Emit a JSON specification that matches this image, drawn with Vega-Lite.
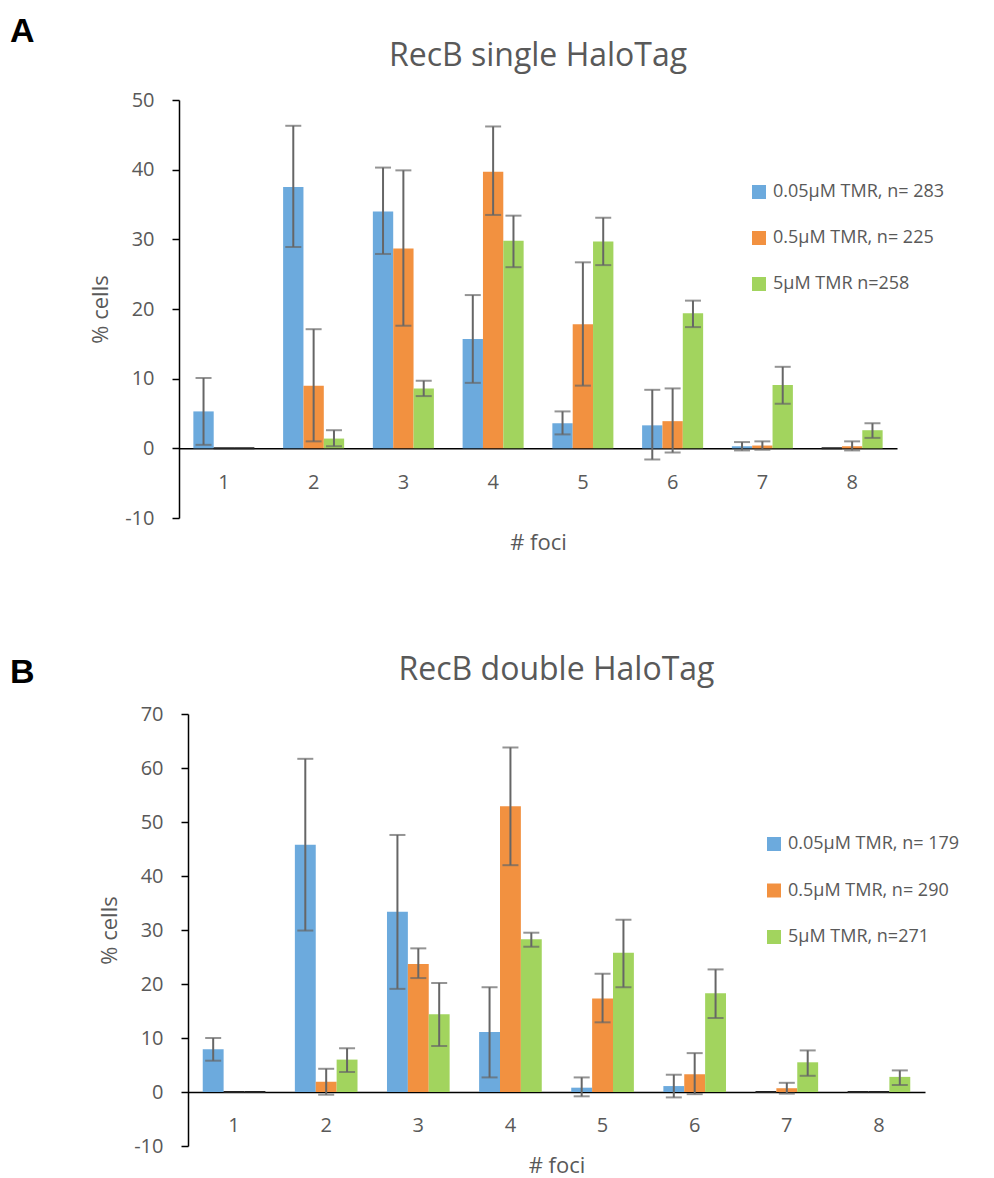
{
  "$schema": "https://vega.github.io/schema/vega-lite/v6.json",
  "padding": {"left": 10, "top": 15, "right": 5, "bottom": 2},
  "config": {"font": "Open Sans", "view": {"stroke": null}},
  "datasets": {
    "A": [
      {"foci": "1", "series": "0.05µM TMR, n= 283", "value": 5.3, "lo": 0.5, "hi": 10.1},
      {"foci": "1", "series": "0.5µM TMR, n= 225", "value": 0, "lo": null, "hi": null},
      {"foci": "1", "series": "5µM TMR n=258", "value": 0, "lo": null, "hi": null},
      {"foci": "2", "series": "0.05µM TMR, n= 283", "value": 37.5, "lo": 28.9, "hi": 46.3},
      {"foci": "2", "series": "0.5µM TMR, n= 225", "value": 9.0, "lo": 1.0, "hi": 17.1},
      {"foci": "2", "series": "5µM TMR n=258", "value": 1.4, "lo": 0.3, "hi": 2.6},
      {"foci": "3", "series": "0.05µM TMR, n= 283", "value": 34.0, "lo": 27.9, "hi": 40.3},
      {"foci": "3", "series": "0.5µM TMR, n= 225", "value": 28.7, "lo": 17.6, "hi": 39.9},
      {"foci": "3", "series": "5µM TMR n=258", "value": 8.6, "lo": 7.5, "hi": 9.7},
      {"foci": "4", "series": "0.05µM TMR, n= 283", "value": 15.7, "lo": 9.4, "hi": 22.0},
      {"foci": "4", "series": "0.5µM TMR, n= 225", "value": 39.7, "lo": 33.5, "hi": 46.2},
      {"foci": "4", "series": "5µM TMR n=258", "value": 29.8, "lo": 26.0, "hi": 33.4},
      {"foci": "5", "series": "0.05µM TMR, n= 283", "value": 3.6, "lo": 2.0, "hi": 5.3},
      {"foci": "5", "series": "0.5µM TMR, n= 225", "value": 17.8, "lo": 9.0, "hi": 26.7},
      {"foci": "5", "series": "5µM TMR n=258", "value": 29.7, "lo": 26.3, "hi": 33.1},
      {"foci": "6", "series": "0.05µM TMR, n= 283", "value": 3.3, "lo": -1.6, "hi": 8.4},
      {"foci": "6", "series": "0.5µM TMR, n= 225", "value": 3.9, "lo": -0.6, "hi": 8.6},
      {"foci": "6", "series": "5µM TMR n=258", "value": 19.4, "lo": 17.4, "hi": 21.2},
      {"foci": "7", "series": "0.05µM TMR, n= 283", "value": 0.3, "lo": -0.3, "hi": 0.9},
      {"foci": "7", "series": "0.5µM TMR, n= 225", "value": 0.4, "lo": -0.2, "hi": 1.0},
      {"foci": "7", "series": "5µM TMR n=258", "value": 9.1, "lo": 6.4, "hi": 11.7},
      {"foci": "8", "series": "0.05µM TMR, n= 283", "value": 0, "lo": null, "hi": null},
      {"foci": "8", "series": "0.5µM TMR, n= 225", "value": 0.3, "lo": -0.3, "hi": 1.0},
      {"foci": "8", "series": "5µM TMR n=258", "value": 2.6, "lo": 1.5, "hi": 3.6}
    ],
    "B": [
      {"foci": "1", "series": "0.05µM TMR, n= 179", "value": 7.9, "lo": 5.8, "hi": 10.0},
      {"foci": "1", "series": "0.5µM TMR, n= 290", "value": 0, "lo": null, "hi": null},
      {"foci": "1", "series": "5µM TMR, n=271", "value": 0, "lo": null, "hi": null},
      {"foci": "2", "series": "0.05µM TMR, n= 179", "value": 45.8, "lo": 29.9, "hi": 61.7},
      {"foci": "2", "series": "0.5µM TMR, n= 290", "value": 1.9, "lo": -0.5, "hi": 4.3},
      {"foci": "2", "series": "5µM TMR, n=271", "value": 6.0, "lo": 3.7, "hi": 8.1},
      {"foci": "3", "series": "0.05µM TMR, n= 179", "value": 33.4, "lo": 19.1, "hi": 47.6},
      {"foci": "3", "series": "0.5µM TMR, n= 290", "value": 23.7, "lo": 21.1, "hi": 26.6},
      {"foci": "3", "series": "5µM TMR, n=271", "value": 14.4, "lo": 8.5, "hi": 20.2},
      {"foci": "4", "series": "0.05µM TMR, n= 179", "value": 11.1, "lo": 2.7, "hi": 19.4},
      {"foci": "4", "series": "0.5µM TMR, n= 290", "value": 52.9, "lo": 42.0, "hi": 63.8},
      {"foci": "4", "series": "5µM TMR, n=271", "value": 28.3, "lo": 26.9, "hi": 29.5},
      {"foci": "5", "series": "0.05µM TMR, n= 179", "value": 0.8, "lo": -0.8, "hi": 2.7},
      {"foci": "5", "series": "0.5µM TMR, n= 290", "value": 17.3, "lo": 12.9, "hi": 21.9},
      {"foci": "5", "series": "5µM TMR, n=271", "value": 25.8, "lo": 19.4, "hi": 31.9},
      {"foci": "6", "series": "0.05µM TMR, n= 179", "value": 1.1, "lo": -1.0, "hi": 3.2},
      {"foci": "6", "series": "0.5µM TMR, n= 290", "value": 3.3, "lo": -0.4, "hi": 7.2},
      {"foci": "6", "series": "5µM TMR, n=271", "value": 18.3, "lo": 13.7, "hi": 22.7},
      {"foci": "7", "series": "0.05µM TMR, n= 179", "value": 0, "lo": null, "hi": null},
      {"foci": "7", "series": "0.5µM TMR, n= 290", "value": 0.7, "lo": -0.3, "hi": 1.7},
      {"foci": "7", "series": "5µM TMR, n=271", "value": 5.5, "lo": 3.0, "hi": 7.7},
      {"foci": "8", "series": "0.05µM TMR, n= 179", "value": 0, "lo": null, "hi": null},
      {"foci": "8", "series": "0.5µM TMR, n= 290", "value": 0, "lo": null, "hi": null},
      {"foci": "8", "series": "5µM TMR, n=271", "value": 2.8, "lo": 1.3, "hi": 4.0}
    ]
  },
  "resolve": {"scale": {"color": "independent", "x": "independent", "y": "independent", "xOffset": "independent"}, "legend": {"color": "independent"}},
  "spacing": 100,
  "vconcat": [
    {
      "title": {"text": "A", "anchor": "start", "fontSize": 34, "fontWeight": "bold", "color": "black", "font": "Liberation Sans", "dx": -78, "offset": -9},
      "spacing": 0,
      "hconcat": [
        {
          "data": {"values": []},
          "width": 1,
          "height": 1,
          "view": {"fill": "white", "stroke": null},
          "mark": {"type": "point", "opacity": 0},
          "encoding": {}
        },
        {
          "data": {"name": "A"},
          "width": 718,
          "height": 418,
          "title": {"text": "RecB single HaloTag", "fontSize": 32, "fontWeight": "normal", "color": "#595959", "anchor": "middle", "offset": 17},
          "encoding": {
            "x": {"field": "foci", "type": "nominal", "sort": null,
              "scale": {"paddingInner": 0.32, "paddingOuter": 0.16},
              "axis": {"orient": "bottom", "offset": -69.7, "domainColor": "black", "domainWidth": 1.5, "ticks": false, "tickSize": 0, "labelPadding": 24, "labelAngle": 0, "labelFontSize": 20, "labelColor": "#595959", "title": "# foci", "titleFontSize": 22, "titleFontWeight": "normal", "titleColor": "#595959", "titlePadding": 40}},
            "xOffset": {"field": "series", "type": "nominal", "sort": null, "scale": {"paddingInner": 0, "paddingOuter": 0}}
          },
          "layer": [
            {
              "mark": {"type": "bar"},
              "encoding": {
                "y": {"field": "value", "type": "quantitative", "stack": null,
                  "scale": {"domain": [-10, 50], "nice": false, "zero": false},
                  "axis": {"values": [-10, 0, 10, 20, 30, 40, 50], "labelExpr": "replace(datum.label, '−', '-')", "grid": false, "domainColor": "black", "domainWidth": 1.5, "tickColor": "black", "tickSize": 7, "tickWidth": 1.5, "labelPadding": 18, "labelFontSize": 20, "labelColor": "#595959", "title": "% cells", "titleFontSize": 22, "titleFontWeight": "normal", "titleColor": "#595959", "titlePadding": 12}},
                "color": {"field": "series", "type": "nominal", "sort": null,
                  "scale": {"domain": ["0.05µM TMR, n= 283", "0.5µM TMR, n= 225", "5µM TMR n=258"], "range": ["#6CAADD", "#F29140", "#A2D45E"]},
                  "legend": {"orient": "none", "legendX": 662, "legendY": 83, "title": null, "symbolType": "square", "symbolSize": 196, "symbolStrokeWidth": 0, "labelFontSize": 18, "labelColor": "#595959", "labelLimit": 400, "rowPadding": 28, "labelOffset": 5}},
                "stroke": {"condition": {"test": "datum.value == 0", "value": "#222222"}, "value": null},
                "strokeWidth": {"value": 2}
              }
            },
            {
              "transform": [{"filter": "datum.hi != null"}],
              "mark": {"type": "rule", "color": "#666666", "strokeWidth": 2},
              "encoding": {"y": {"field": "lo", "type": "quantitative"}, "y2": {"field": "hi"}}
            },
            {
              "transform": [{"filter": "datum.hi != null"}],
              "mark": {"type": "tick", "color": "#666666", "thickness": 2, "size": 16},
              "encoding": {"y": {"field": "hi", "type": "quantitative"}}
            },
            {
              "transform": [{"filter": "datum.hi != null"}],
              "mark": {"type": "tick", "color": "#666666", "thickness": 2, "size": 16},
              "encoding": {"y": {"field": "lo", "type": "quantitative"}}
            }
          ]
        }
      ]
    },
    {
      "title": {"text": "B", "anchor": "start", "fontSize": 34, "fontWeight": "bold", "color": "black", "font": "Liberation Sans", "dx": -78, "offset": -36},
      "spacing": 0,
      "hconcat": [
        {
          "data": {"values": []},
          "width": 10,
          "height": 1,
          "view": {"fill": "white", "stroke": null},
          "mark": {"type": "point", "opacity": 0},
          "encoding": {}
        },
        {
          "data": {"name": "B"},
          "width": 737,
          "height": 432,
          "title": {"text": "RecB double HaloTag", "fontSize": 32, "fontWeight": "normal", "color": "#595959", "anchor": "middle", "offset": 17},
          "encoding": {
            "x": {"field": "foci", "type": "nominal", "sort": null,
              "scale": {"paddingInner": 0.32, "paddingOuter": 0.16},
              "axis": {"orient": "bottom", "offset": -54, "domainColor": "black", "domainWidth": 1.5, "ticks": false, "tickSize": 0, "labelPadding": 23, "labelAngle": 0, "labelFontSize": 20, "labelColor": "#595959", "title": "# foci", "titleFontSize": 22, "titleFontWeight": "normal", "titleColor": "#595959", "titlePadding": 20}},
            "xOffset": {"field": "series", "type": "nominal", "sort": null, "scale": {"paddingInner": 0, "paddingOuter": 0}}
          },
          "layer": [
            {
              "mark": {"type": "bar"},
              "encoding": {
                "y": {"field": "value", "type": "quantitative", "stack": null,
                  "scale": {"domain": [-10, 70], "nice": false, "zero": false},
                  "axis": {"values": [-10, 0, 10, 20, 30, 40, 50, 60, 70], "labelExpr": "replace(datum.label, '−', '-')", "grid": false, "domainColor": "black", "domainWidth": 1.5, "tickColor": "black", "tickSize": 7, "tickWidth": 1.5, "labelPadding": 18, "labelFontSize": 20, "labelColor": "#595959", "title": "% cells", "titleFontSize": 22, "titleFontWeight": "normal", "titleColor": "#595959", "titlePadding": 12}},
                "color": {"field": "series", "type": "nominal", "sort": null,
                  "scale": {"domain": ["0.05µM TMR, n= 179", "0.5µM TMR, n= 290", "5µM TMR, n=271"], "range": ["#6CAADD", "#F29140", "#A2D45E"]},
                  "legend": {"orient": "none", "legendX": 677, "legendY": 121, "title": null, "symbolType": "square", "symbolSize": 196, "symbolStrokeWidth": 0, "labelFontSize": 18, "labelColor": "#595959", "labelLimit": 400, "rowPadding": 28.5, "labelOffset": 5}},
                "stroke": {"condition": {"test": "datum.value == 0", "value": "#222222"}, "value": null},
                "strokeWidth": {"value": 2}
              }
            },
            {
              "transform": [{"filter": "datum.hi != null"}],
              "mark": {"type": "rule", "color": "#666666", "strokeWidth": 2},
              "encoding": {"y": {"field": "lo", "type": "quantitative"}, "y2": {"field": "hi"}}
            },
            {
              "transform": [{"filter": "datum.hi != null"}],
              "mark": {"type": "tick", "color": "#666666", "thickness": 2, "size": 16},
              "encoding": {"y": {"field": "hi", "type": "quantitative"}}
            },
            {
              "transform": [{"filter": "datum.hi != null"}],
              "mark": {"type": "tick", "color": "#666666", "thickness": 2, "size": 16},
              "encoding": {"y": {"field": "lo", "type": "quantitative"}}
            }
          ]
        }
      ]
    }
  ]
}
